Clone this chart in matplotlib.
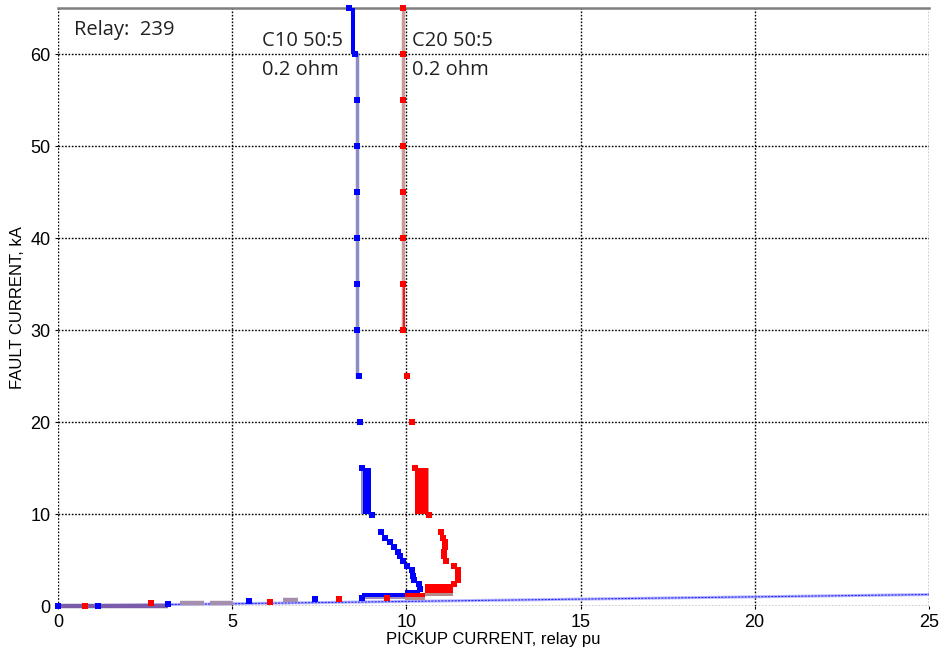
import matplotlib
matplotlib.use('Agg')
import matplotlib.pyplot as plt

# C10 50:5 CT, 0.2 ohm burden -- relay pickup vs fault current
c10_pu = [8.35, 8.52, 8.57, 8.57, 8.57, 8.57, 8.57, 8.57, 8.64, 8.67, 8.73, 9.00,
          9.26, 9.38, 9.53, 9.65, 9.77, 9.81, 9.89, 10.02, 10.17, 10.19, 10.22, 10.35,
          10.39, 8.73, 7.37, 5.49, 3.17, 1.16, 0.0]
c10_ka = [65, 60, 55, 50, 45, 40, 35, 30, 25, 20, 15, 9.9,
          8.0, 7.45, 7.0, 6.46, 5.9, 5.45, 4.93, 4.39, 3.92, 3.3, 2.83, 2.36,
          1.9, 0.84, 0.73, 0.5, 0.2, 0.0, 0.0]

# C20 50:5 CT, 0.2 ohm burden
c20_pu = [9.91, 9.91, 9.91, 9.91, 9.91, 9.91, 9.91, 9.91, 10.02, 10.15, 10.26, 10.65,
          10.99, 11.06, 11.10, 11.10, 11.08, 11.08, 11.15, 11.36, 11.47, 11.47, 11.47, 11.37,
          9.45, 8.07, 6.10, 2.66, 0.77]
c20_ka = [65, 60, 55, 50, 45, 40, 35, 30, 25, 20, 15, 9.9,
          8.0, 7.45, 7.0, 6.46, 5.9, 5.45, 4.93, 4.39, 3.92, 3.3, 2.83, 2.36,
          0.84, 0.73, 0.47, 0.29, 0.0]

# saturated regions where the pickup wanders over a range of currents
c10_top_ka = [60, 65]
c10_top_pu = [8.40, 8.52]
c10_mid_ka = [10, 15]
c10_mid_pu = [8.75, 8.98]
c20_mid_ka = [10, 15]
c20_mid_pu = [10.26, 10.62]

c10_low_pu = [8.73, 9.95, 9.95, 10.40]
c10_low_lo = [1.02, 1.02, 1.28, 1.28]
c10_low_hi = [1.42, 1.42, 1.72, 1.72]
c20_low_pu = [9.96, 10.55, 10.55, 11.34]
c20_low_lo = [0.95, 0.95, 1.40, 1.40]
c20_low_hi = [1.45, 1.45, 2.40, 2.40]

# straight (unsaturated) response line
ideal_pu = [0, 25]
ideal_ka = [0, 1.25]

# traces along the bottom
trace_pu = [[0, 3.17], [3.5, 4.2], [4.36, 5.03], [6.47, 6.9]]
trace_ka = [[0.03, 0.03], [0.37, 0.37], [0.35, 0.35], [0.6, 0.6]]

fig = plt.figure(figsize=(9.43, 6.56), dpi=100)
ax = fig.add_axes([0.0615, 0.0762, 0.9235, 0.911])

ax.plot(ideal_pu, ideal_ka, color='#b8b8ff', lw=2.2, zorder=2)
ax.plot(ideal_pu, ideal_ka, color='#2a2aff', lw=0.8, ls=(0, (2, 1)), zorder=2)

for i in range(len(trace_pu)):
    col = '#7b5ca8' if i == 0 else '#a68fae'
    ax.plot(trace_pu[i], trace_ka[i], color=col, lw=3.2, zorder=3,
            solid_capstyle='butt', clip_on=False)

# vertical traces of the saturated CTs
ax.plot([c10_pu[2], c10_pu[2]], [c10_ka[8], c10_ka[1]], color='#8c8cc6', lw=2.5, zorder=3)
ax.plot([c20_pu[0], c20_pu[0]], [c20_ka[7], c20_ka[0]], color='#c89a9a', lw=2.5, zorder=3)
ax.plot([c20_pu[6] + 0.02, c20_pu[7] + 0.02], [c20_ka[6], c20_ka[7]], color='red', lw=1.2, zorder=3)

ax.fill_betweenx(c10_top_ka, c10_top_pu[0], c10_top_pu[1], color='blue', lw=0, zorder=4)
ax.fill_betweenx(c10_mid_ka, c10_mid_pu[0] - 0.04, c10_mid_pu[1] - 0.04, color='#8c8cc6', lw=0, zorder=3)
ax.fill_betweenx(c10_mid_ka, c10_mid_pu[0], c10_mid_pu[1], color='blue', lw=0, zorder=4)
ax.fill_betweenx(c20_mid_ka, c20_mid_pu[0], c20_mid_pu[1] + 0.04, color='#c89a9a', lw=0, zorder=3)
ax.fill_betweenx(c20_mid_ka, c20_mid_pu[0], c20_mid_pu[1], color='red', lw=0, zorder=4)

ax.fill_between(c10_low_pu, [v - 0.25 for v in c10_low_lo], [v - 0.1 for v in c10_low_hi],
                color='#a08cb4', lw=0, zorder=3)
ax.fill_between(c10_low_pu, c10_low_lo, c10_low_hi, color='blue', lw=0, zorder=4)
ax.fill_between(c20_low_pu, [v - 0.3 for v in c20_low_lo], [v - 0.1 for v in c20_low_hi],
                color='#b48c8c', lw=0, zorder=3)
ax.fill_between(c20_low_pu, c20_low_lo, c20_low_hi, color='red', lw=0, zorder=4)

ax.plot(c10_pu, c10_ka, 's', color='blue', ms=5, mew=0, zorder=5, clip_on=False)
ax.plot(c20_pu, c20_ka, 's', color='red', ms=5, mew=0, zorder=5, clip_on=False)

ax.set_xlim(0, 25)
ax.set_ylim(0, 65)
ax.set_xticks([0, 5, 10, 15, 20, 25])
ax.set_yticks([0, 10, 20, 30, 40, 50, 60])
ax.grid(True, color='black', ls=(0, (1.2, 1.2)), lw=1)
ax.set_axisbelow(True)
for s in ['left', 'bottom', 'right']:
    ax.spines[s].set_visible(False)
ax.spines['top'].set_color('#7f7f7f')
ax.spines['top'].set_linewidth(1.8)

tfont = 'Liberation Sans'
ax.tick_params(length=2, width=0.8, labelsize=13)
for lab in ax.get_xticklabels() + ax.get_yticklabels():
    lab.set_fontfamily(tfont)
ax.set_xlabel('PICKUP CURRENT, relay pu', fontsize=12, family=tfont, labelpad=1)
ax.set_ylabel('FAULT CURRENT, kA', fontsize=12, family=tfont, labelpad=4)

nfont = 'Open Sans'
ax.text(0.45, 62.6, 'Relay:  239', fontsize=14.5, family=nfont, va='center', color='#222222')
ax.text(5.85, 61.4, 'C10 50:5', fontsize=14.5, family=nfont, va='center', color='#222222')
ax.text(5.85, 58.3, '0.2 ohm', fontsize=14.5, family=nfont, va='center', color='#222222')
ax.text(10.15, 61.4, 'C20 50:5', fontsize=14.5, family=nfont, va='center', color='#222222')
ax.text(10.15, 58.3, '0.2 ohm', fontsize=14.5, family=nfont, va='center', color='#222222')

fig.savefig('out.png', dpi=100)
